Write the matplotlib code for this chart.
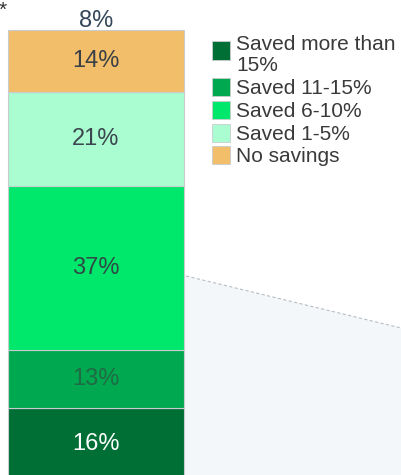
import matplotlib
matplotlib.use("Agg")
import matplotlib.pyplot as plt
from matplotlib.patches import Rectangle, Polygon

# ---- data (bottom to top) ----
categories = ["Saved more than 15%", "Saved 11-15%", "Saved 6-10%", "Saved 1-5%", "No savings"]
legend_labels = ["Saved more than\n15%", "Saved 11-15%", "Saved 6-10%", "Saved 1-5%", "No savings"]
values = [16, 13, 37, 21, 14]
top_note = "8%"
colors = ["#006F35", "#00A94F", "#00E86C", "#AAFDD0", "#F3BE6A"]
label_colors = ["#FFFFFF", "#1F6B44", "#2E4A45", "#3B4650", "#3B4046"]

plt.rcParams["font.family"] = ["Liberation Sans", "DejaVu Sans"]

W, H = 401, 475
fig = plt.figure(figsize=(W / 100, H / 100), dpi=100)
ax = fig.add_axes([0, 0, 1, 1])
ax.set_axis_off()

# light background shape behind the right side
poly = Polygon([(184 / W, 1 - 276 / H), (1, 1 - 328 / H), (1, 0), (184 / W, 0)],
               closed=True, transform=ax.transAxes, facecolor="#F3F7FA",
               edgecolor="none", zorder=0)
ax.add_patch(poly)
ax.plot([186 / W, 1], [1 - 276 / H, 1 - 328 / H], transform=ax.transAxes,
        color="#B8BEC4", lw=0.8, ls=(0, (3, 2)), zorder=0.5)

# scale: ~4.45 px per percent, bar bottom slightly below the figure
ppp = 4.45
y0 = 1.0
ax.set_ylim(y0, y0 + H / ppp)
left = -0.5 - 8 / 176
ax.set_xlim(left, left + W / 176)

bottom = 0
for v, c, lc in zip(values, colors, label_colors):
    ax.bar(0, v, bottom=bottom, width=1.0, color=c, edgecolor="#C9CCCF",
           linewidth=0.8, zorder=2)
    ax.text(0, bottom + v / 2, f"{v}%", ha="center", va="center",
            fontsize=17, color=lc, zorder=3)
    bottom += v

ax.text(0, bottom + 0.7, top_note, ha="center", va="baseline",
        fontsize=17, color="#34475A")
fig.text(-1 / W, 1 - 20 / H, "*", fontsize=15, color="#333333", ha="left", va="bottom")

# legend, top row = darkest green
sq = 18
sq_x = 212
sq_centers = [50.5, 87, 110, 133, 155]
text_tops = [35, 79, 102, 125, 147]
for lab, c, cy, ty in zip(legend_labels, colors, sq_centers, text_tops):
    fig.patches.append(Rectangle((sq_x / W, 1 - (cy + sq / 2) / H), sq / W, sq / H,
                                 transform=fig.transFigure, facecolor=c,
                                 edgecolor="#C9CCCF", linewidth=0.6))
    fig.text(236 / W, 1 - ty / H, lab, ha="left", va="top", fontsize=15,
             color="#3A3A3A", linespacing=1.12)

fig.savefig("out.png", dpi=100)
